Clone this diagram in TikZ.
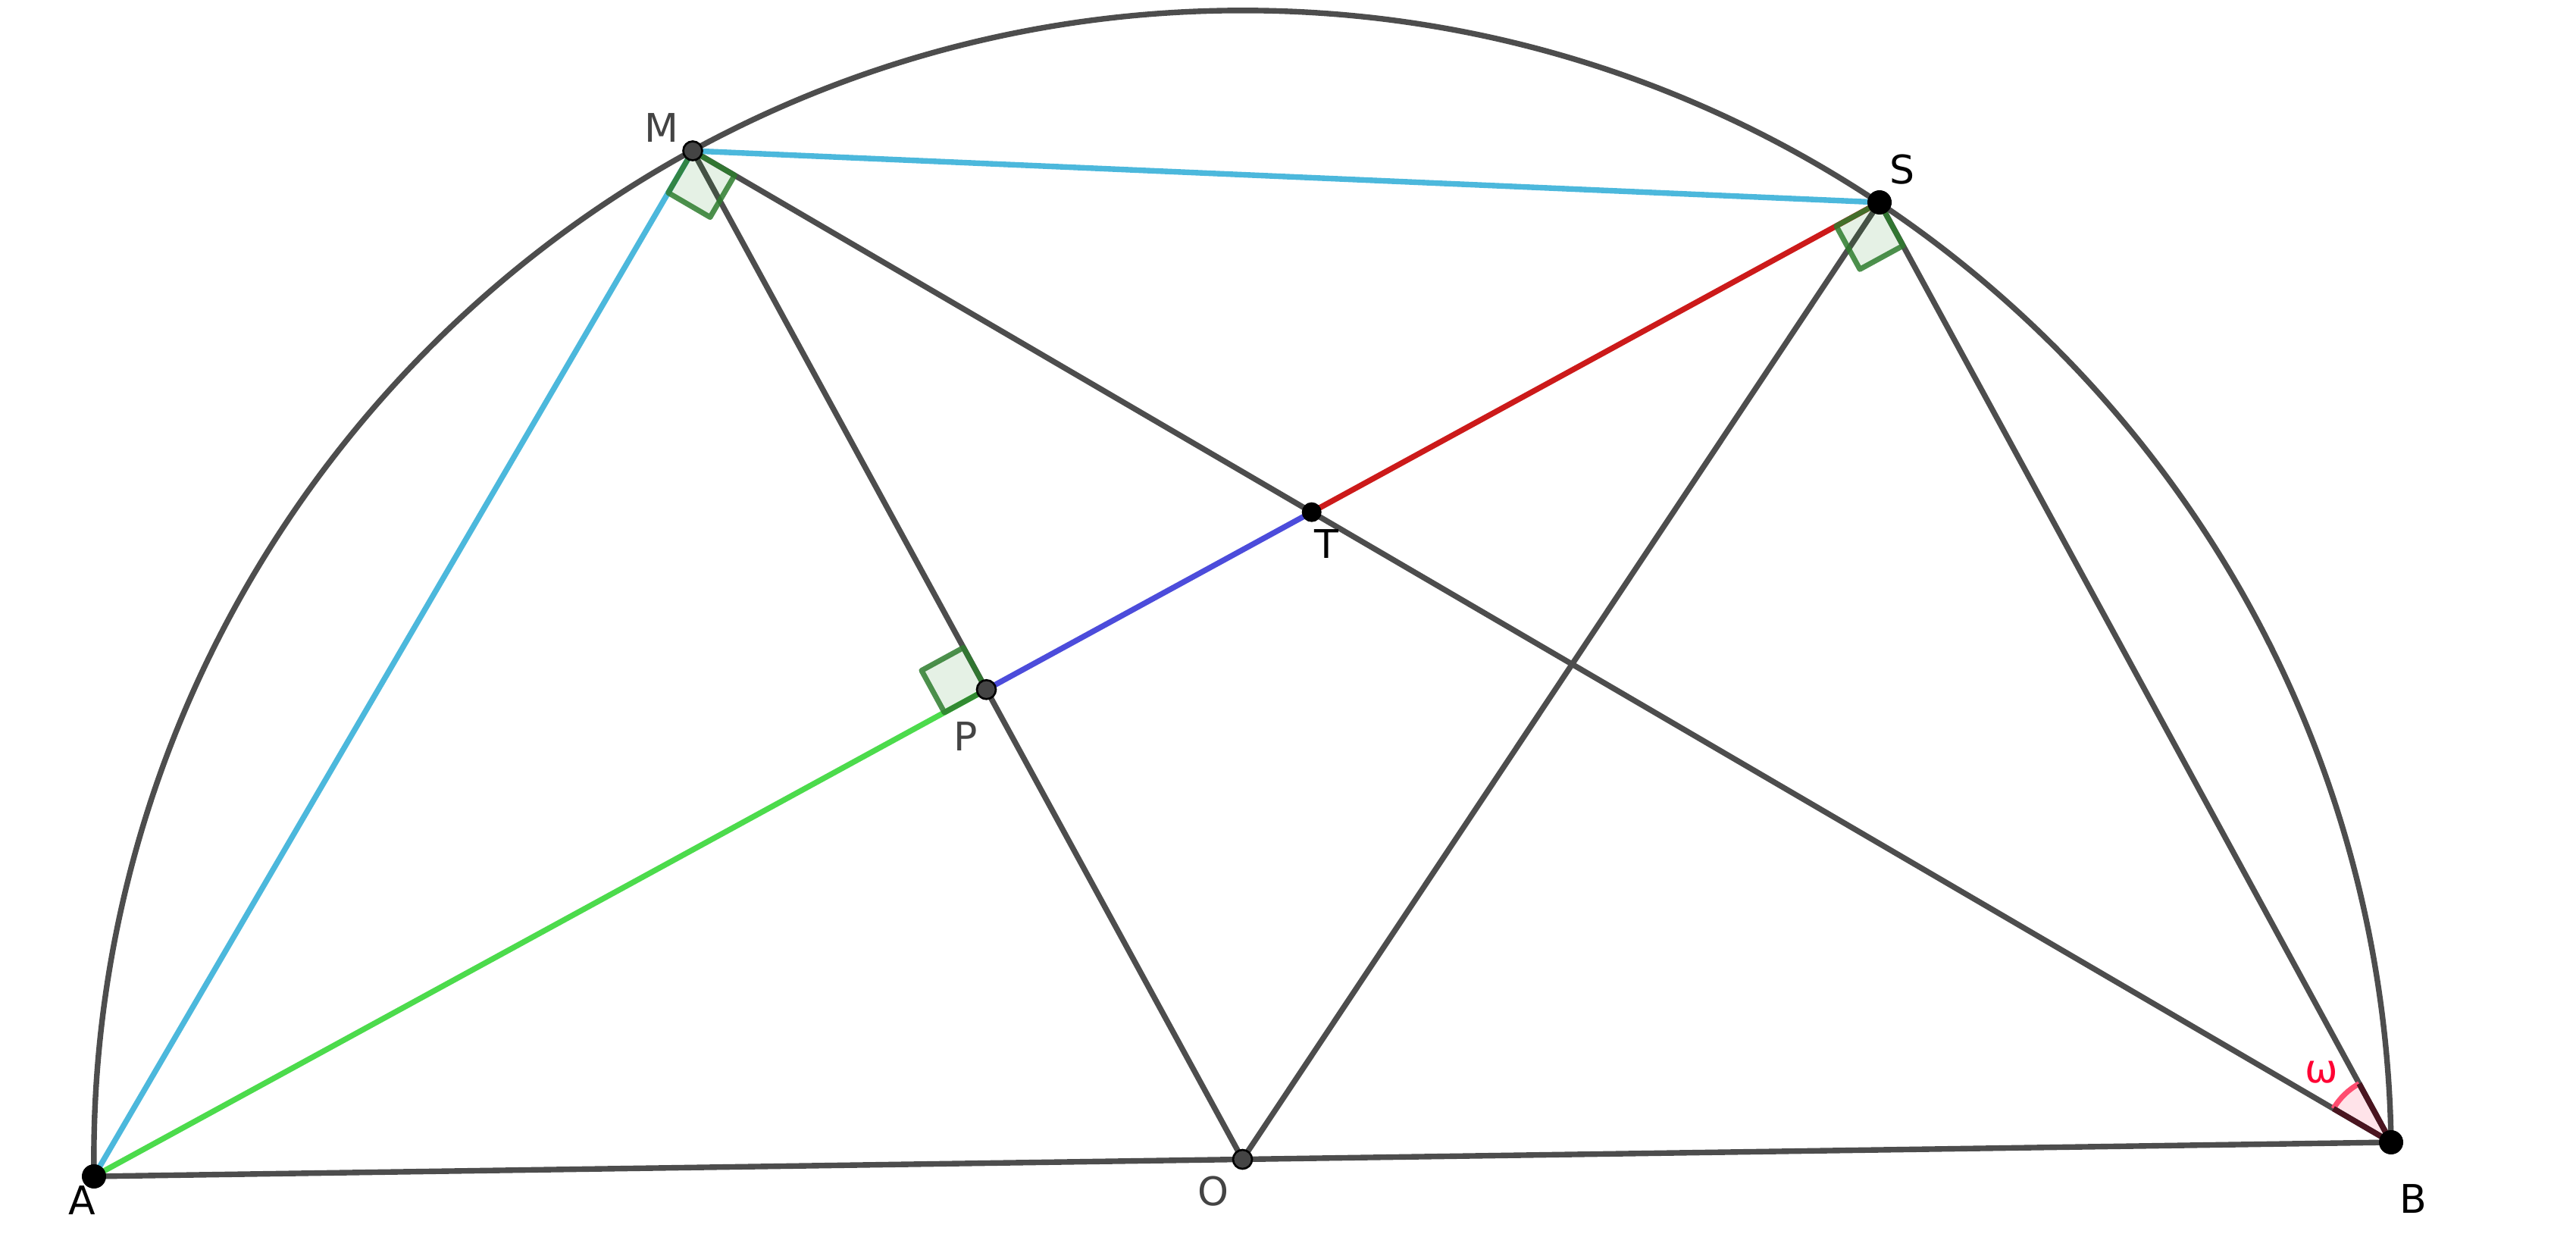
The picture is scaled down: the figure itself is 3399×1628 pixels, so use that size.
\documentclass[tikz,border=0pt]{standalone}
\usepackage{fontspec}
\setmainfont{DejaVu Sans}
\usetikzlibrary{calc}
\definecolor{lgray}{HTML}{4D4D4D}
\definecolor{ptgray}{HTML}{444444}
\definecolor{cyanl}{HTML}{4CB8DC}
\definecolor{greenl}{HTML}{4CDB4C}
\definecolor{bluel}{HTML}{4C4CDB}
\definecolor{redl}{HTML}{CC1A1A}
\definecolor{rgreen}{HTML}{2E7D2E}
\definecolor{rfill}{HTML}{007F00}
\definecolor{pinkl}{HTML}{FF4D70}
\definecolor{pinkfill}{HTML}{FFE3E9}
\definecolor{darkedge}{HTML}{4A1520}
\definecolor{omegac}{HTML}{FF0033}
\begin{document}
\begin{tikzpicture}[x=0.01cm,y=-0.01cm,
  seg/.style={line width=2.1pt,line cap=round},
  rightmark/.style={draw=rgreen,fill=rfill,fill opacity=0.1,draw opacity=0.85,line width=2pt,line join=round},
  bigpt/.style={circle,fill=black,inner sep=0pt,minimum size=0.32cm},
  midpt/.style={circle,fill=black,inner sep=0pt,minimum size=0.26cm},
  smallpt/.style={circle,fill=ptgray,draw=black,line width=0.75pt,inner sep=0pt,minimum size=0.25cm},
  lbl/.style={inner sep=0pt,font=\fontsize{14.8}{16}\selectfont},
]
\useasboundingbox (0,0) rectangle (3399,1628);
\fill[white] (0,0) rectangle (3399,1628);
\coordinate (A) at (124,1552);
\coordinate (B) at (3155,1507);
\coordinate (O) at ($(A)!0.5!(B)$);
\coordinate (M) at (914,199);
\coordinate (S) at (2480,267);
\coordinate (P) at ($(A)!(M)!(S)$);
\coordinate (T) at (intersection of A--S and M--B);
% semicircle
\draw[seg,lgray] (B) arc[start angle=-0.85, end angle=-180.85, radius=1515.7];
% angle sector at B (fill)
\coordinate (W1) at ($(B)!0.88cm!(M)$);
\coordinate (W2) at ($(B)!0.88cm!(S)$);
\fill[pinkfill] (B) -- (W1) arc[start angle=-149.73, end angle=-118.56, radius=88] -- cycle;
% segments
\draw[seg,lgray] (A) -- (O) -- (B);
\draw[seg,lgray] (M) -- (P) -- (O);
\draw[seg,lgray] (M) -- (T) -- (B);
\draw[seg,lgray] (S) -- (O);
\draw[seg,lgray] (S) -- (B);
\draw[seg,cyanl] (A) -- (M);
\draw[seg,cyanl] (M) -- (S);
\draw[seg,greenl] (A) -- (P);
\draw[seg,bluel] (P) -- (T);
\draw[seg,redl] (T) -- (S);
% right angle marks
\coordinate (M1) at ($(M)!0.64cm!(A)$);
\coordinate (M2) at ($(M)!0.64cm!(B)$);
\draw[rightmark] (M) -- (M1) -- ($(M1)+(M2)-(M)$) -- (M2) -- cycle;
\coordinate (S1) at ($(S)!0.65cm!(A)$);
\coordinate (S2) at ($(S)!0.65cm!(B)$);
\draw[rightmark] (S) -- (S1) -- ($(S1)+(S2)-(S)$) -- (S2) -- cycle;
\coordinate (P1) at ($(P)!0.63cm!(A)$);
\coordinate (P2) at ($(P)!0.63cm!(M)$);
\draw[rightmark] (P) -- (P1) -- ($(P1)+(P2)-(P)$) -- (P2) -- cycle;
% angle omega
\draw[line width=2pt,pinkl] (W1) arc[start angle=-149.73, end angle=-118.56, radius=88];
\draw[line width=2.1pt,darkedge] (W1) -- (B) -- (W2);
% points
\node[bigpt] (nA) at (A) {};
\node[bigpt] (nB) at (B) {};
\node[bigpt] (nS) at (S) {};
\node[midpt] (nT) at (T) {};
\node[smallpt] (nO) at (O) {};
\node[smallpt] (nM) at (M) {};
\node[smallpt] (nP) at (P) {};
% labels
\node[lbl,text=black] (lA) at (108,1584) {A};
\node[lbl,text=black] (lB) at (3184,1582) {B};
\node[lbl,text=ptgray] (lO) at (1601,1572) {O};
\node[lbl,text=ptgray] (lM) at (873,169) {M};
\node[lbl,text=black] (lS) at (2510,224) {S};
\node[lbl,text=black] (lT) at (1750,718) {T};
\node[lbl,text=ptgray] (lP) at (1274,972) {P};
\node[lbl,text=omegac] (lw) at (3063,1415) {ω};
\end{tikzpicture}
\end{document}
